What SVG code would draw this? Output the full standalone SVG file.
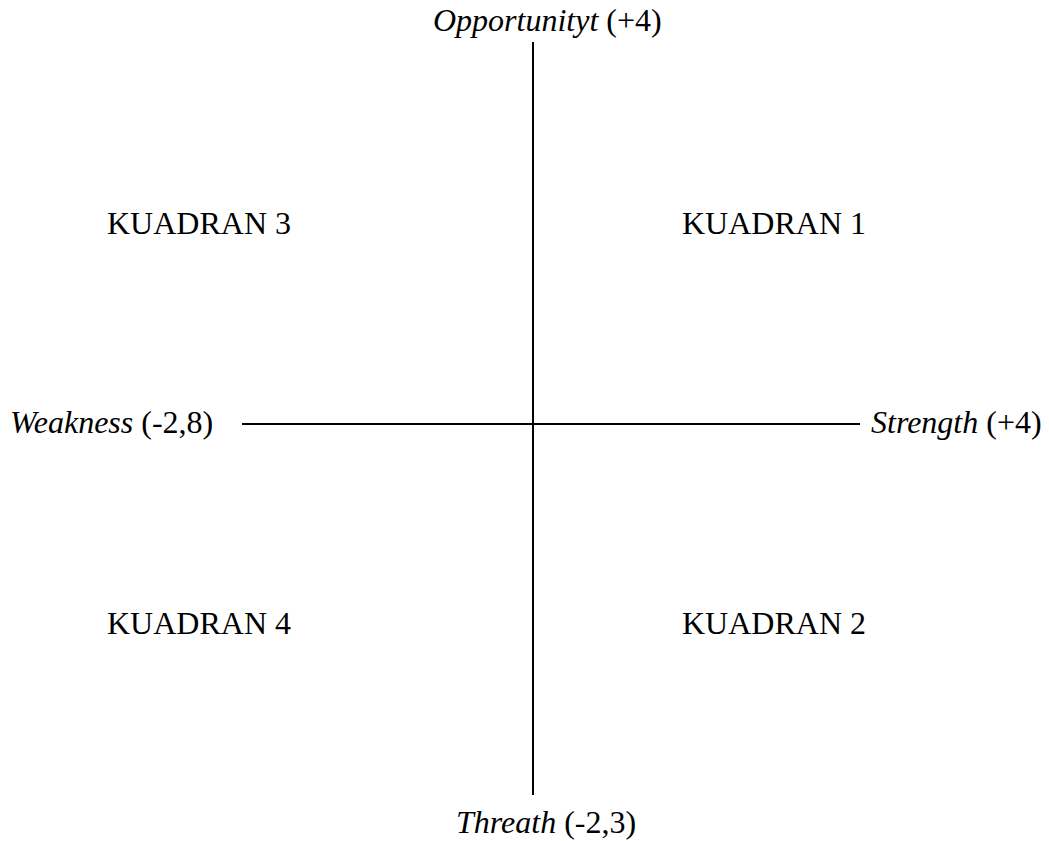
<svg xmlns="http://www.w3.org/2000/svg" width="1049" height="841" viewBox="0 0 1049 841">
<style>
text{font-family:"Liberation Serif","Times New Roman",serif;font-size:32px;fill:#000}
.axis{stroke:#000;stroke-width:2;fill:none}
</style>
<rect width="1049" height="841" fill="#fff"/>
<g id="connectors">
<line class="axis" x1="533" y1="42" x2="533" y2="795"/>
<line class="axis" x1="242" y1="424" x2="860" y2="424"/>
</g>
<g id="opportunity"><text x="433" y="31"><tspan font-style="italic">Opportunityt</tspan> (+4)</text></g>
<g id="weakness"><text x="10" y="433"><tspan font-style="italic">Weakness</tspan> (-2,8)</text></g>
<g id="strength"><text x="871" y="433"><tspan font-style="italic">Strength</tspan> (+4)</text></g>
<g id="threat"><text x="456" y="833"><tspan font-style="italic">Threath</tspan> (-2,3)</text></g>
<g id="k3"><text x="107" y="234">KUADRAN 3</text></g>
<g id="k1"><text x="682" y="234">KUADRAN 1</text></g>
<g id="k4"><text x="107" y="634">KUADRAN 4</text></g>
<g id="k2"><text x="682" y="634">KUADRAN 2</text></g>
</svg>
